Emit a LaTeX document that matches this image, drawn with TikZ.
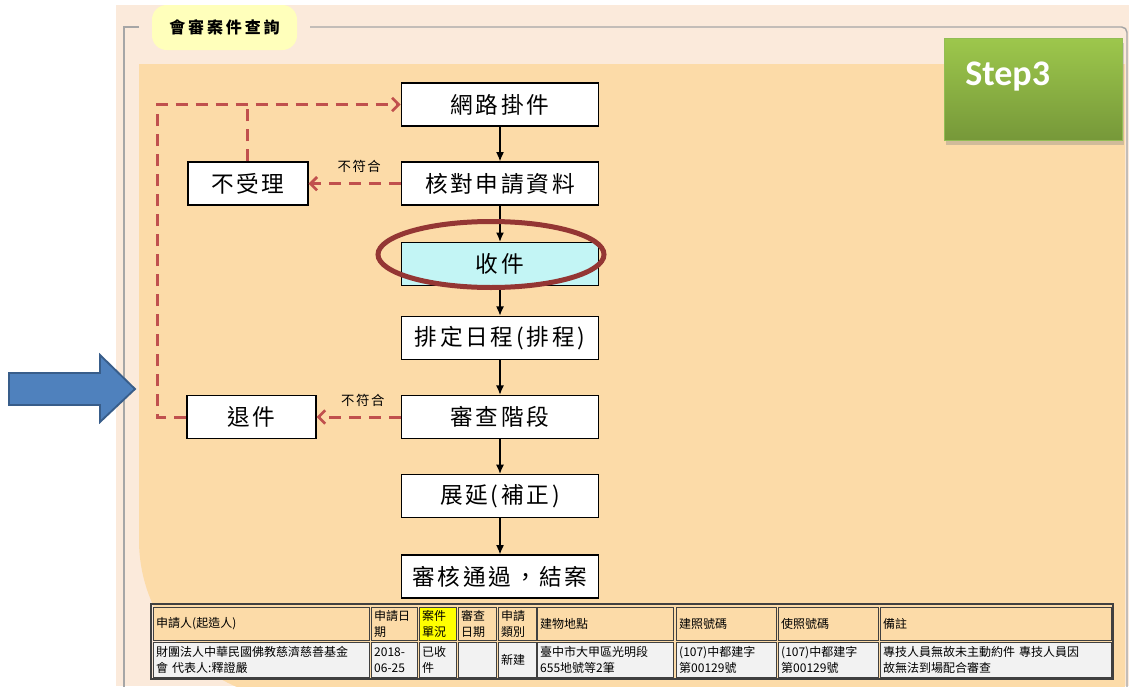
\documentclass[tikz,border=0pt]{standalone}
\usepackage{fontspec}
\setsansfont{Carlito}
\newfontfamily\cjkfont{Noto Sans CJK TC}
\newfontfamily\cjkwide[LetterSpace=12]{Noto Sans CJK TC}
\newfontfamily\cjktitle[LetterSpace=18]{Noto Sans CJK TC}
\usepackage{tikz}
\usetikzlibrary{arrows.meta,shapes.geometric,positioning,shadows}
\usepackage{xcolor}
\definecolor{pglight}{RGB}{251,234,219}
\definecolor{pgorange}{RGB}{252,219,168}
\definecolor{pgframe}{RGB}{166,166,166}
\definecolor{pgyellow}{RGB}{255,255,187}
\definecolor{pgred}{RGB}{192,80,77}
\definecolor{pgring}{RGB}{148,54,52}
\definecolor{pgcyan}{RGB}{195,245,245}
\definecolor{pgblue}{RGB}{79,129,189}
\definecolor{pgbluedark}{RGB}{56,93,138}
\definecolor{pggreentop}{RGB}{157,199,76}
\definecolor{pggreenbot}{RGB}{118,152,57}
\definecolor{pggreenline}{RGB}{146,189,85}
\definecolor{pgcell}{RGB}{242,242,242}
\definecolor{pgcellline}{RGB}{64,64,64}
\definecolor{pgmark}{RGB}{255,255,0}
\tikzstyle{flow} = [line width=1pt,-{Latex[length=7pt,width=6pt]}]
\tikzstyle{reddash} = [line width=2.3pt,color=pgred,dash pattern=on 9pt off 6pt]
\tikzstyle{redarrow} = [reddash,-{Straight Barb[length=5pt,width=10pt,line width=2pt]}]
\tikzstyle{stagebox} = [rectangle, draw, line width=1.1pt, fill=white, minimum width=148pt, minimum height=32.25pt, inner sep=0pt, font=\cjkwide\fontsize{17}{20}\selectfont]
\tikzstyle{sidebox} = [stagebox, minimum width=90pt]
\tikzstyle{tcell} = [rectangle, draw=pgcellline, line width=0.8pt, anchor=north west, inner sep=2pt, align=left, font=\cjkfont\fontsize{9}{12}\selectfont]
\tikzstyle{nomatch} = [font=\cjkwide\fontsize{10}{12}\selectfont, text=black, inner sep=1pt]

\begin{document}
\begin{tikzpicture}[x=0.75pt,y=-0.75pt]
\useasboundingbox (0,0) rectangle (1129,686);
\clip (0,0) rectangle (1129,686);

% page and panels
\fill[white] (0,0) rectangle (1129,686);
\fill[pglight] (116,5) rectangle (1129,686);
\draw[pgframe, line width=1.1pt] (139,27) -- (124,27) -- (124,700);
\draw[pgframe, line width=1.1pt, rounded corners=4pt] (310,27) -- (1127,27) -- (1127,700);
\fill[pgorange] (139,64) -- (1125,64) -- (1125,700) -- (300,700) .. controls (212,700) and (139,628) .. (139,540) -- cycle;
\node[fill=pgyellow, rounded corners=11pt, minimum width=108.75pt, minimum height=33.75pt, font=\cjktitle\bfseries\fontsize{12}{14}\selectfont] (title) at (224.5,27.5) {會審案件查詢};

% step tag
\node[anchor=north west, draw=pggreenline, line width=0.8pt, top color=pggreentop, bottom color=pggreenbot, minimum width=133.5pt, minimum height=76.5pt, drop shadow={opacity=0.35, shadow xshift=1pt, shadow yshift=-3pt}] (step) at (944,38) {};
\node[anchor=base west, text=white, font=\sffamily\bfseries\fontsize{27}{30}\selectfont, inner sep=0pt] (steplbl) at (965,85) {Step3};

% pointer
\draw[fill=pgblue, draw=pgbluedark, line width=1.4pt] (9,373) -- (100,373) -- (100,355) -- (135,389) -- (100,422) -- (100,405) -- (9,405) -- cycle;

% flow
\node[stagebox] (net) at (500,104.5) {網路掛件};
\node[stagebox, below=26pt of net] (chk) {核對申請資料};
\node[stagebox, below=27pt of chk, fill=pgcyan] (rcv) {收件};
\node[stagebox, below=22pt of rcv] (sch) {排定日程(排程)};
\node[stagebox, below=26pt of sch] (rev) {審查階段};
\node[stagebox, below=26pt of rev] (ext) {展延(補正)};
\node[stagebox, below=27pt of ext] (fin) {審核通過，結案};
\node[sidebox, left=69pt of chk] (rej) {不受理};
\node[sidebox, left=63pt of rev, minimum width=96.75pt] (ret) {退件};

\draw[flow] (net) -- (chk);
\draw[flow] (chk) -- (rcv);
\draw[flow] (rcv) -- (sch);
\draw[flow] (sch) -- (rev);
\draw[flow] (rev) -- (ext);
\draw[flow] (ext) -- (fin);

\draw[redarrow] (chk) -- node[nomatch, above=6pt, pos=0.45] (lbl1) {不符合} (rej);
\draw[redarrow] (rev) -- node[nomatch, above=6pt, pos=0.45] (lbl2) {不符合} (ret);
\draw[redarrow] (ret.west) -- ++(-29,0) |- (net.west);
\draw[reddash] (rej.north) -- (rej.north |- net.west);

\node[draw=pgring, line width=3.75pt, ellipse, minimum width=169.5pt, minimum height=49.5pt, inner sep=0pt] (ring) at (491,254.5) {};

% case table
\draw[pgcellline, line width=1pt] (151,604) rectangle (1113,679);
\foreach \x/\w/\hf/\hd/\dt [count=\i] in {
  153/162/pgorange/{申請人(起造人)}/{財團法人中華民國佛教慈濟慈善基金\\會\ 代表人:釋證嚴},
  371/34.5/pgorange/{申請日\\期}/{2018-\\06-25},
  419/27.75/pgmark/{案件\\單況}/{已收\\件},
  458/28.5/pgorange/{審查\\日期}/{},
  498/28.5/pgorange/{申請\\類別}/{新建},
  537/102/pgorange/{建物地點}/{臺中市大甲區光明段\\655地號等2筆},
  676/75/pgorange/{建照號碼}/{(107)中都建字\\第00129號},
  778/75/pgorange/{使照號碼}/{(107)中都建字\\第00129號},
  880/173.25/pgorange/{備註}/{專技人員無故未主動約件 專技人員因\\故無法到場配合審查}}{
  \pgfmathsetmacro\tw{\w-4}
  \node[tcell, fill=\hf, minimum width=\w pt, minimum height=24.75pt, text width=\tw pt] (h\i) at (\x,607) {\hd};
  \node[tcell, fill=pgcell, minimum width=\w pt, minimum height=26.25pt, text width=\tw pt] (d\i) at (\x,642) {\dt};
}
\end{tikzpicture}
\end{document}
